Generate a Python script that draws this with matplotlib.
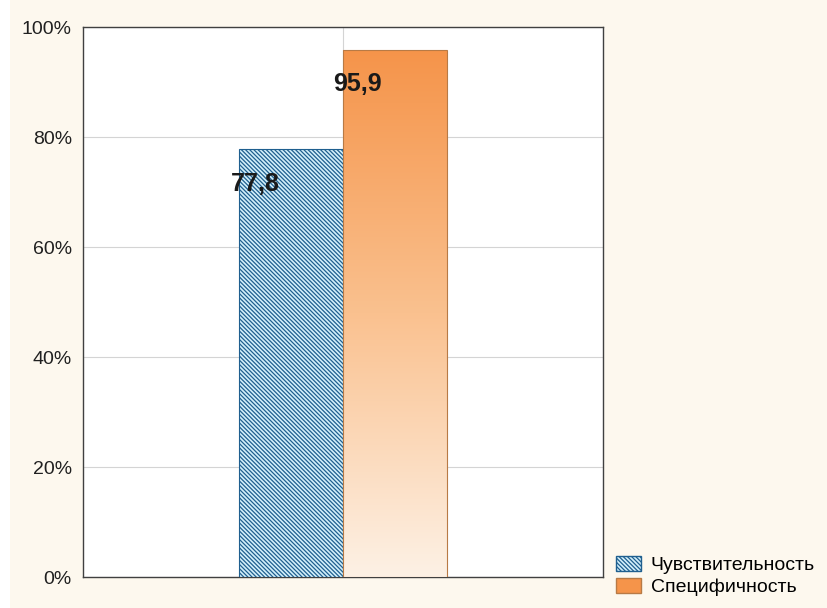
import numpy as np
import matplotlib.pyplot as plt
from matplotlib.patches import Patch, Rectangle
import matplotlib.colors as mcolors

plt.rcParams['font.family'] = ['Liberation Sans', 'DejaVu Sans']
plt.rcParams['hatch.color'] = '#3a8cc4'
plt.rcParams['hatch.linewidth'] = 0.9

series = ['Чувствительность', 'Специфичность']
values = [77.8, 95.9]
labels = ['77,8', '95,9']
yticks = [0, 20, 40, 60, 80, 100]

fig = plt.figure(figsize=(8.27, 6.08), dpi=100, facecolor='#fdf8ee')
fig.patches.append(Rectangle((0, 0), 10 / 827, 1, transform=fig.transFigure,
                             facecolor='white', edgecolor='none', zorder=-1))
ax = fig.add_axes([83 / 827, 31 / 608, 520 / 827, 550 / 608])
ax.set_facecolor('white')

pos = [-0.2, 0.2]
w = 0.4
hatch = '\\' * 8

# blue hatched bar
ax.bar(pos[0], values[0], width=w, facecolor='#d2effa', edgecolor='#1f5f8f',
       hatch=hatch, linewidth=0.8, zorder=3)

# orange bar with vertical gradient
b = ax.bar(pos[1], values[1], width=w, facecolor='none', edgecolor='#b87a45',
           linewidth=0.8, zorder=4)[0]
cmap = mcolors.LinearSegmentedColormap.from_list('o', ['#fdf1e5', '#fac18f', '#f5944a'])
grad = np.linspace(0, 1, 256).reshape(-1, 1)
im = ax.imshow(grad, cmap=cmap, origin='lower', aspect='auto',
               extent=[pos[1] - w / 2, pos[1] + w / 2, 0, values[1]], zorder=3)
im.set_clip_path(b)

ax.text(pos[0] - w / 2 - 0.03, 71.5, labels[0], fontsize=18, fontweight='bold',
        color='#1a1a1a', ha='left', va='center', zorder=5)
ax.text(pos[1] - 0.146, 89.7, labels[1], fontsize=18, fontweight='bold',
        color='#1a1a1a', ha='center', va='center', zorder=5)

ax.set_xlim(-1, 1)
ax.set_ylim(0, 100)
ax.set_yticks(yticks)
ax.set_yticklabels([f'{t}%' for t in yticks], fontsize=14, color='#202020')
ax.set_xticks([0])
ax.set_xticklabels([])
ax.tick_params(axis='both', length=0, pad=8)
ax.grid(True, color='#d4d4d4', linewidth=0.8, zorder=0)
ax.set_axisbelow(True)
for s in ax.spines.values():
    s.set_color('#404040')
    s.set_linewidth(1.0)

handles = [Patch(facecolor='#d2effa', edgecolor='#1f5f8f', hatch=hatch),
           Patch(facecolor='#f5944a', edgecolor='#b87a45')]
fig.legend(handles, series, loc='lower left', bbox_to_anchor=(604 / 827, 0.0),
           frameon=False, fontsize=14, handlelength=1.3, handleheight=0.8,
           handletextpad=0.5, labelspacing=0.2, borderpad=0.1)

plt.savefig('out.png', dpi=100, facecolor=fig.get_facecolor())
